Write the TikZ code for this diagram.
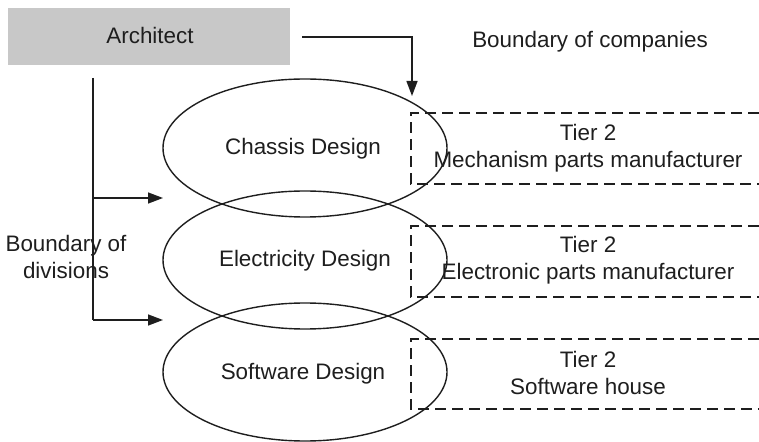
\documentclass[tikz,border=0pt]{standalone}
\usepackage{fontspec}
\setmainfont{Liberation Sans}
\usetikzlibrary{arrows.meta,shapes.geometric}
\definecolor{archgray}{RGB}{200,200,200}
\definecolor{ink}{RGB}{30,30,30}
\tikzset{
  lbl/.style={font=\fontsize{22.5}{27.5}\selectfont, text=ink, align=center, inner sep=0pt},
  ell/.style={draw=ink, line width=1.4bp, ellipse, minimum width=284bp, minimum height=138bp},
  conn/.style={draw=ink, line width=1.4bp},
  arr/.style={conn, -{Triangle[length=15bp,width=11bp]}},
  dbox/.style={draw=ink, line width=1.3bp, dash pattern=on 11bp off 6bp},
}
\begin{document}
\begin{tikzpicture}[x=1bp,y=-1bp]
\useasboundingbox (0,0) rectangle (759,442);
% architect box
\node[fill=archgray, minimum width=282bp, minimum height=57bp, inner sep=0pt, anchor=north west] (arch) at (8,8) {};
\node[lbl] (archt) at (150,35) {Architect};
% ellipses
\node[ell] (e1) at (305,148) {};
\node[ell] (e2) at (305,260) {};
\node[ell] (e3) at (305,372) {};
\node[lbl] (t1) at (303,149) {Chassis Design};
\node[lbl] (t2) at (305,261) {Electricity Design};
\node[lbl] (t3) at (303,374) {Software Design};
% dashed boxes
\draw[dbox] (759,113) -- (411,113) -- (411,184) -- (759,184);
\draw[dbox] (759,226) -- (411,226) -- (411,297) -- (759,297);
\draw[dbox] (759,339) -- (411,339) -- (411,409) -- (759,409);
\node[lbl] (d1) at (588,148) {Tier 2\\Mechanism parts manufacturer};
\node[lbl] (d2) at (588,260) {Tier 2\\Electronic parts manufacturer};
\node[lbl] (d3) at (588,373) {Tier 2\\Software house};
% boundary of companies
\coordinate (c1) at (302,37);
\coordinate (c2) at (412,37);
\coordinate (c3) at (412,96);
\draw[arr] (c1) -- (c2) -- (c3);
\node[lbl] (bc) at (590,42) {Boundary of companies};
% boundary of divisions
\coordinate (v0) at (93,78);
\coordinate (v1) at (93,198);
\coordinate (v2) at (93,320);
\coordinate (a1) at (163,198);
\coordinate (a2) at (163,320);
\draw[conn] (v0) -- (v2);
\draw[arr] (v1) -- (a1);
\draw[arr] (v2) -- (a2);
\node[lbl] (bd) at (66,257) {Boundary of\\divisions};
\end{tikzpicture}
\end{document}
